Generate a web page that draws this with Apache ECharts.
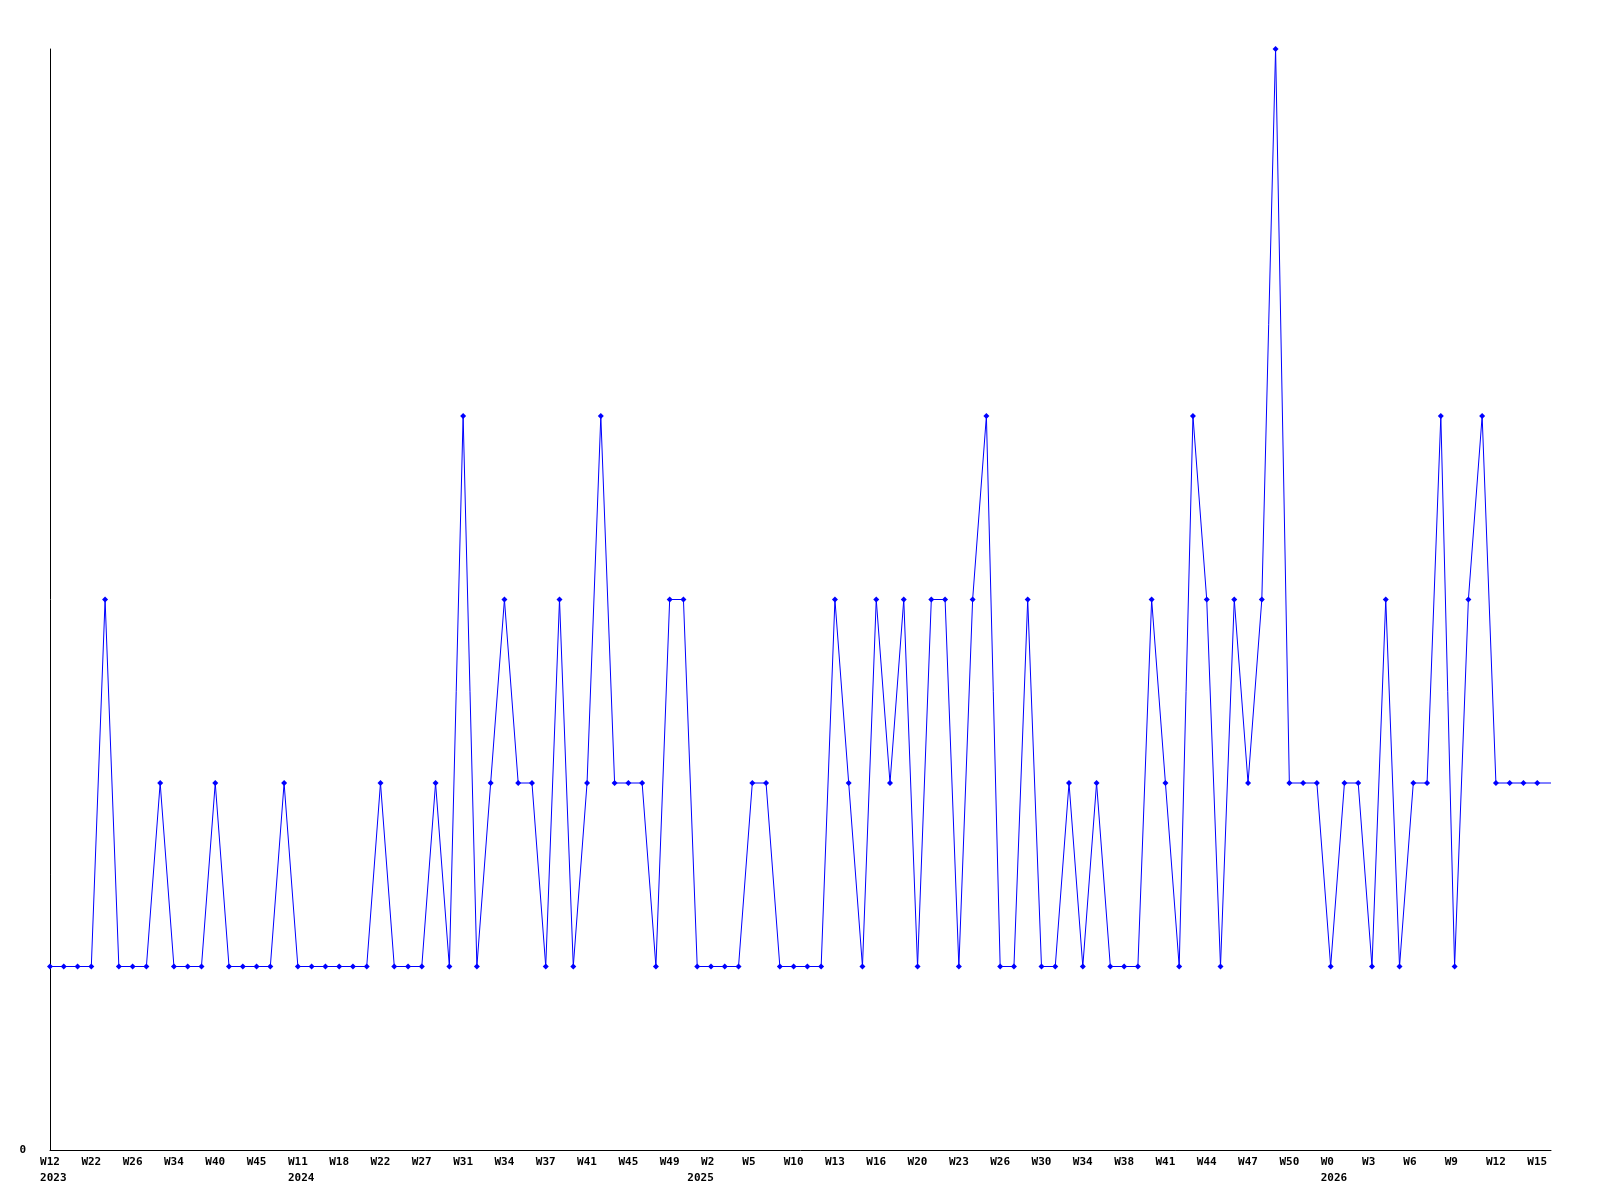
<!DOCTYPE html>
<html>
<head>
<meta charset="utf-8">
<script src="https://cdn.jsdelivr.net/npm/echarts@6/dist/echarts.min.js"></script>
<style>
  html, body { margin: 0; padding: 0; background: #ffffff; }
  #chart { width: 1600px; height: 1200px; }
</style>
</head>
<body>
<div id="chart"></div>
<script>
// Week categories per year (only every third week label is printed on the axis)
const weeks2023 = ['W12','W15','W19','W22','W23','W24','W26','W28','W31','W34','W36','W38','W40','W42','W43','W45','W48','W51'];
const weeks2024 = ['W11','W14','W16','W18','W20','W21','W22','W24','W25','W27','W29','W30','W31','W32','W33','W34','W35','W36','W37','W39','W40','W41','W42','W43','W45','W46','W48','W49','W51'];
const weeks2025 = ['W1','W2','W3','W4','W5','W7','W9','W10','W11','W12','W13','W14','W15','W16','W18','W19','W20','W21','W22','W23','W24','W25','W26','W27','W29','W30','W32','W33','W34','W36','W37','W38','W39','W40','W41','W42','W43','W44','W45','W46','W47','W48','W49','W50','W51','W52'];
const weeks2026 = ['W0','W1','W2','W3','W4','W5','W6','W7','W8','W9','W10','W11','W12','W13','W14','W15','W16'];

// Series values (counts per week)
const values = [
  1,1,1,1,3,1,1,1,2,1,1,1,2,1,1,1,1,2,1,
  1,1,1,1,1,2,1,1,1,2,1,4,1,2,3,2,2,1,3,
  1,2,4,2,2,2,1,3,3,1,1,1,1,2,2,1,1,1,1,
  3,2,1,3,2,3,1,3,3,1,3,4,1,1,3,1,1,2,
  1,2,1,1,1,3,2,1,4,3,1,3,2,3,6,2,2,2,1,
  2,2,1,3,1,2,2,4,1,3,4,2,2,2,2,2
];

// y-axis tick labels that are printed
const yTickLabels = ['0'];

const categories = []
  .concat(weeks2023.map(w => '2023-' + w))
  .concat(weeks2024.map(w => '2024-' + w))
  .concat(weeks2025.map(w => '2025-' + w))
  .concat(weeks2026.map(w => '2026-' + w));

const FONT = '"DejaVu Sans Mono", "Liberation Mono", monospace';

const seriesData = values.map((v, i) => i === values.length - 1 ? { value: v, symbol: 'none' } : v);

const chart = echarts.init(document.getElementById('chart'), null, { renderer: 'canvas' });
chart.setOption({
  animation: false,
  backgroundColor: '#ffffff',
  grid: { left: 50, right: 49, top: 49, bottom: 50, containLabel: false },
  xAxis: [
    {
      type: 'category',
      data: categories,
      boundaryGap: false,
      position: 'bottom',
      axisLine: { show: true, lineStyle: { color: '#000000', width: 1 } },
      axisTick: { show: false },
      splitLine: { show: false },
      axisLabel: {
        interval: 2,
        margin: 7,
        color: '#000000',
        fontFamily: FONT,
        fontWeight: 'bold',
        fontSize: 11,
        align: 'center',
        formatter: function (val) {
          const w = val.split('-')[1];
          return w.length < 3 ? w + ' ' : w;
        }
      }
    },
    {
      type: 'category',
      data: categories,
      boundaryGap: false,
      position: 'bottom',
      gridIndex: 0,
      axisLine: { show: false },
      axisTick: { show: false },
      splitLine: { show: false },
      axisLabel: {
        interval: 0,
        margin: 23,
        color: '#000000',
        fontFamily: FONT,
        fontWeight: 'bold',
        fontSize: 11,
        align: 'center',
        formatter: function (val, idx) {
          const y = val.split('-')[0];
          const prev = idx > 0 ? categories[idx - 1].split('-')[0] : null;
          return (idx === 0 || y !== prev) ? ' ' + y : '';
        }
      }
    }
  ],
  yAxis: {
    type: 'value',
    min: 0,
    max: 6,
    interval: 1,
    axisLine: { show: true, lineStyle: { color: '#000000', width: 1 } },
    axisTick: { show: false },
    splitLine: { show: false },
    axisLabel: {
      margin: 24,
      color: '#000000',
      fontFamily: FONT,
      fontWeight: 'bold',
      fontSize: 11,
      formatter: function (v) { return yTickLabels.indexOf(String(v)) >= 0 ? String(v) : ''; }
    }
  },
  series: [{
    type: 'line',
    xAxisIndex: 0,
    data: seriesData,
    showAllSymbol: true,
    symbol: 'diamond',
    symbolSize: 6,
    itemStyle: { color: '#0000ff' },
    lineStyle: { color: '#0000ff', width: 1 },
    clip: false
  }]
});
</script>
</body>
</html>
